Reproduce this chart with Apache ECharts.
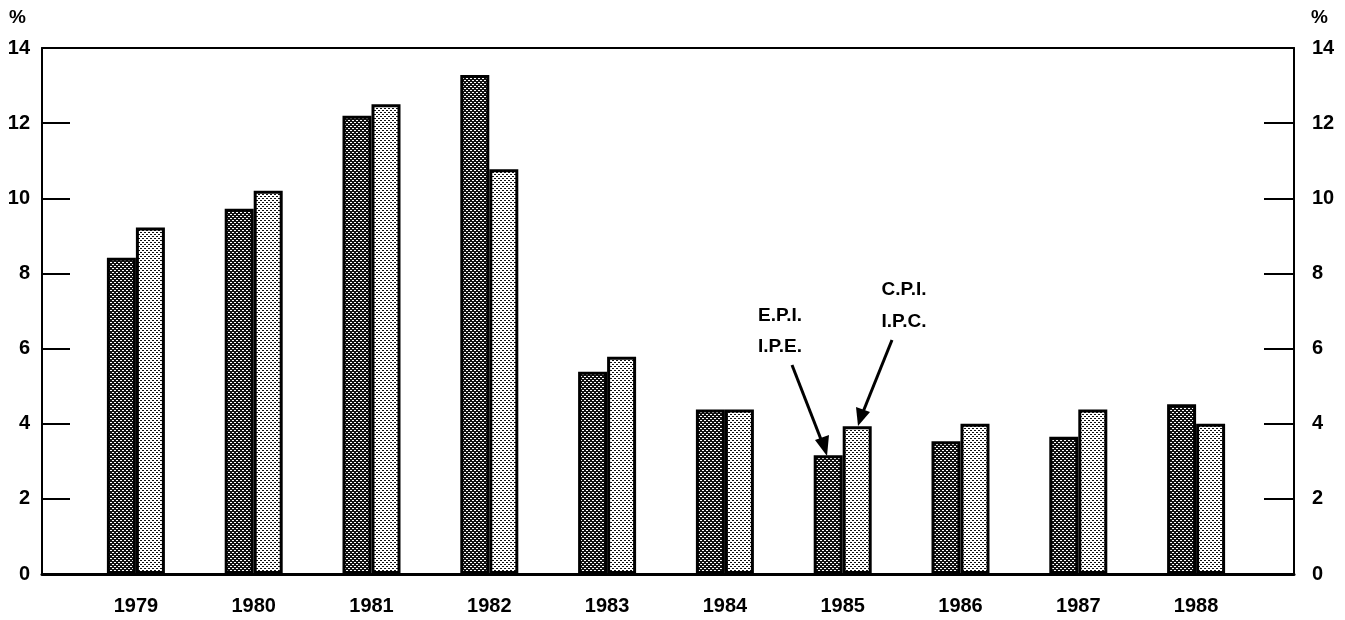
<!DOCTYPE html>
<html>
<head>
<meta charset="utf-8">
<script src="https://cdn.jsdelivr.net/npm/echarts@6/dist/echarts.min.js"></script>
<style>html,body{margin:0;padding:0;background:#fff;}#main{width:1345px;height:620px;}</style>
</head>
<body>
<div id="main"></div>
<script>
const years = ['1979','1980','1981','1982','1983','1984','1985','1986','1987','1988'];
const epi = [8.42, 9.72, 12.2, 13.28, 5.38, 4.38, 3.16, 3.53, 3.65, 4.52];
const cpi = [9.22, 10.2, 12.5, 10.77, 5.78, 4.38, 3.93, 4.0, 4.38, 4.0];
const yTicks = [0, 2, 4, 6, 8, 10, 12, 14];

function makePattern(base, dot, cells) {
  const c = document.createElement('canvas');
  c.width = 4; c.height = 4;
  const g = c.getContext('2d');
  g.fillStyle = base; g.fillRect(0, 0, 4, 4);
  g.fillStyle = dot;
  cells.forEach(p => g.fillRect(p[0], p[1], p[2], p[3]));
  return c;
}
const darkPat = makePattern('#111111', '#ffffff', [[0,0,2,1],[2,2,2,1]]);
const lightPat = makePattern('#ffffff', '#111111', [[0,0,2,1],[2,2,2,1]]);

const font = '"Liberation Sans", Arial, Helvetica, sans-serif';
const chart = echarts.init(document.getElementById('main'), null, {renderer: 'canvas'});
const labelStyle = {color: '#000', fontSize: 20, fontWeight: 'bold', fontFamily: font};
const noteFont = 'bold 19px ' + font;

chart.setOption({
  animation: false,
  backgroundColor: '#fff',
  grid: [
    {left: 42, right: 51, top: 48, bottom: 46},
    {left: 77, right: 90, top: 48, bottom: 46}
  ],
  xAxis: [
    {type: 'value', gridIndex: 0, min: 0, max: 1, position: 'bottom',
     axisLine: {show: true, onZero: false, lineStyle: {color: '#000', width: 3}},
     axisTick: {show: false}, axisLabel: {show: false}, splitLine: {show: false}},
    {type: 'value', gridIndex: 0, min: 0, max: 1, position: 'top',
     axisLine: {show: true, onZero: false, lineStyle: {color: '#000', width: 2}},
     axisTick: {show: false}, axisLabel: {show: false}, splitLine: {show: false}},
    {type: 'category', gridIndex: 1, data: years,
     axisLine: {show: false, onZero: false}, axisTick: {show: false},
     axisLabel: Object.assign({margin: 22}, labelStyle)}
  ],
  yAxis: [
    {type: 'value', gridIndex: 0, min: 0, max: 14, interval: 2, position: 'left',
     axisLine: {show: true, onZero: false, lineStyle: {color: '#000', width: 2}},
     axisTick: {show: true, inside: true, length: 28, lineStyle: {color: '#000', width: 2}},
     axisLabel: Object.assign({margin: 12, formatter: v => yTicks.includes(v) ? String(v) : ''}, labelStyle),
     splitLine: {show: false}},
    {type: 'value', gridIndex: 0, min: 0, max: 14, interval: 2, position: 'right',
     axisLine: {show: true, onZero: false, lineStyle: {color: '#000', width: 2}},
     axisTick: {show: true, inside: true, length: 30, lineStyle: {color: '#000', width: 2}},
     axisLabel: Object.assign({margin: 18, formatter: v => yTicks.includes(v) ? String(v) : ''}, labelStyle),
     splitLine: {show: false}},
    {type: 'value', gridIndex: 1, min: 0, max: 14, show: false,
     axisLine: {show: false, onZero: false}}
  ],
  series: [
    {name: 'E.P.I.', type: 'bar', xAxisIndex: 2, yAxisIndex: 2, data: epi,
     barWidth: 29, barGap: '0%',
     itemStyle: {color: {image: darkPat, repeat: 'repeat'}, borderColor: '#000', borderWidth: 3}},
    {name: 'C.P.I.', type: 'bar', xAxisIndex: 2, yAxisIndex: 2, data: cpi,
     barWidth: 29, barGap: '0%',
     itemStyle: {color: {image: lightPat, repeat: 'repeat'}, borderColor: '#000', borderWidth: 3}}
  ],
  graphic: [
    {type: 'text', left: 9, top: 8, style: {text: '%', fill: '#000', font: 'bold 19px ' + font}},
    {type: 'text', left: 1311, top: 8, style: {text: '%', fill: '#000', font: 'bold 19px ' + font}},
    {type: 'text', x: 780, y: 316, style: {text: 'E.P.I.', fill: '#000', font: noteFont, textAlign: 'center', textVerticalAlign: 'middle'}},
    {type: 'text', x: 780, y: 347, style: {text: 'I.P.E.', fill: '#000', font: noteFont, textAlign: 'center', textVerticalAlign: 'middle'}},
    {type: 'text', x: 904, y: 290, style: {text: 'C.P.I.', fill: '#000', font: noteFont, textAlign: 'center', textVerticalAlign: 'middle'}},
    {type: 'text', x: 904, y: 322, style: {text: 'I.P.C.', fill: '#000', font: noteFont, textAlign: 'center', textVerticalAlign: 'middle'}},
    {type: 'line', shape: {x1: 792, y1: 365, x2: 822, y2: 442}, style: {stroke: '#000', lineWidth: 3}},
    {type: 'polygon', shape: {points: [[827, 456], [815, 440], [829, 435]]}, style: {fill: '#000'}},
    {type: 'line', shape: {x1: 892, y1: 340, x2: 863, y2: 412}, style: {stroke: '#000', lineWidth: 3}},
    {type: 'polygon', shape: {points: [[858, 426], [856, 407], [870, 412]]}, style: {fill: '#000'}}
  ]
});
</script>
</body>
</html>
